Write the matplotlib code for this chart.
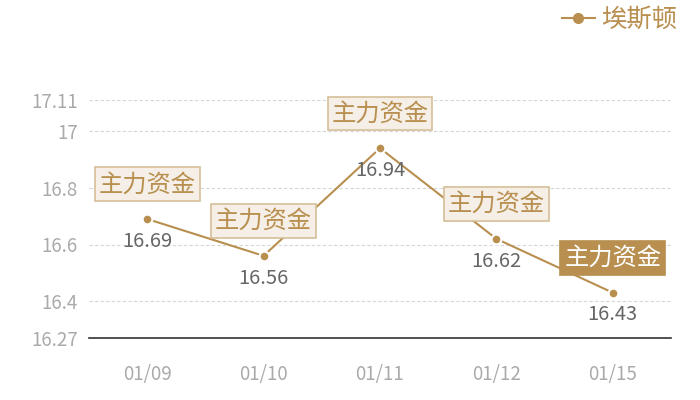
import matplotlib
matplotlib.use('Agg')
from matplotlib import pyplot as plt

dates = ['01/09', '01/10', '01/11', '01/12', '01/15']
prices = [16.69, 16.56, 16.94, 16.62, 16.43]
y_ticks = [16.27, 16.4, 16.6, 16.8, 17, 17.11]
y_tick_labels = ['16.27', '16.4', '16.6', '16.8', '17', '17.11']
series_name = '埃斯顿'
box_text = '主力资金'

GOLD = '#b88f4f'

plt.rcParams['font.family'] = ['Noto Sans CJK SC', 'DejaVu Sans']

fig = plt.figure(figsize=(7, 4), dpi=100)
ax = fig.add_axes([89 / 700, 62 / 400, 582 / 700, 238 / 400])

x = list(range(len(dates)))
line, = ax.plot(x, prices, color=GOLD, lw=1.5, marker='o', ms=7,
                markeredgecolor='white', markeredgewidth=1.5, label=series_name)

ax.set_xlim(-0.5, len(dates) - 0.5)
ax.set_ylim(y_ticks[0], y_ticks[-1])
ax.set_xticks(x)
ax.set_xticklabels(dates)
ax.set_yticks(y_ticks)
ax.set_yticklabels(y_tick_labels)

# グリッドと枠
for v in y_ticks[1:]:
    ax.axhline(v, color='#d5d5d5', lw=0.8, ls=(0, (3, 2)), zorder=0)
for s in ['top', 'right', 'left']:
    ax.spines[s].set_visible(False)
ax.spines['bottom'].set_color('#333333')
ax.spines['bottom'].set_linewidth(1.2)
ax.tick_params(axis='both', length=0, colors='#aaaaaa', labelsize=13.5)
ax.tick_params(axis='x', pad=19)
ax.tick_params(axis='y', pad=8)

# 値ラベルと注釈ボックス
for i, v in enumerate(prices):
    ax.annotate(f'{v:.2f}', (i, v), xytext=(0, -16), textcoords='offset points',
                ha='center', va='center', fontsize=14.5, color='#666666')
    last = i == len(prices) - 1
    ax.annotate(box_text, (i, v), xytext=(0, 25), textcoords='offset points',
                ha='center', va='center', fontsize=17.5,
                color='white' if last else GOLD,
                bbox=dict(boxstyle='square,pad=0.16',
                          facecolor=GOLD if last else '#f5efe7',
                          edgecolor=GOLD if last else '#d6bf98', lw=1.2))

proxy, = ax.plot([], [], color=GOLD, lw=1.5, marker='o', ms=7)
leg = fig.legend(handles=[proxy], labels=[series_name], loc='upper right',
                 bbox_to_anchor=(1.0, 1.04), frameon=False, fontsize=18.3,
                 handlelength=1.3, handletextpad=0.25)
for t in leg.get_texts():
    t.set_color(GOLD)

fig.savefig('out.png', dpi=100)
